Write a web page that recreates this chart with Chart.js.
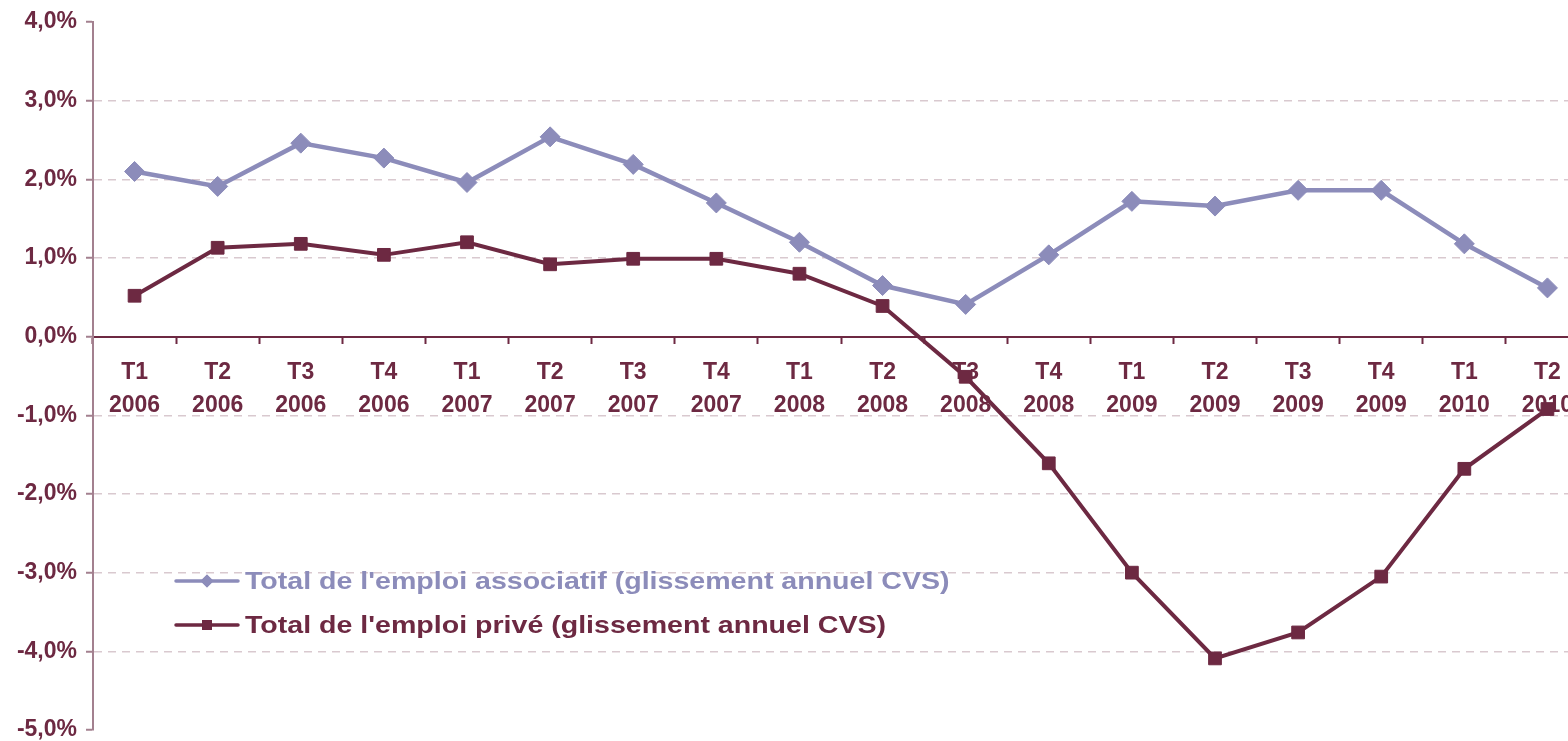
<!DOCTYPE html>
<html><head><meta charset="utf-8">
<script src="https://cdn.jsdelivr.net/npm/chart.js@4"></script>
<style>
html,body{margin:0;padding:0;overflow:hidden;background:#fff;width:1568px;height:741px;}
#wrap{position:absolute;left:0;top:0;width:1600px;height:741px;}
</style></head>
<body><div id="wrap"><canvas id="c"></canvas></div>
<script>
const quarters = ['T1','T2','T3','T4','T1','T2','T3','T4','T1','T2','T3','T4','T1','T2','T3','T4','T1','T2'];
const years = ['2006','2006','2006','2006','2007','2007','2007','2007','2008','2008','2008','2008','2009','2009','2009','2009','2010','2010'];
const associatif = [2.10,1.91,2.46,2.27,1.96,2.54,2.19,1.70,1.20,0.65,0.41,1.04,1.72,1.66,1.86,1.86,1.18,0.62];
const prive = [0.52,1.13,1.18,1.04,1.20,0.92,0.99,0.99,0.80,0.39,-0.51,-1.61,-3.00,-4.09,-3.76,-3.05,-1.68,-0.92];
const seriesNames = ["Total de l'emploi associatif (glissement annuel CVS)", "Total de l'emploi privé (glissement annuel CVS)"];
const yMin = -5, yMax = 4;

const MAROON = '#6d2942';
const LILAC = '#8c8cba';
const FONT = "'Liberation Sans', Arial, sans-serif";

const labels = quarters.map((q,i)=>[q, years[i]]);

const legendPlugin = {
  id: 'insideLegend',
  afterDraw(chart) {
    const ctx = chart.ctx;
    const rows = [{y:581, r:6.5}, {y:625, r:7}];
    chart.data.datasets.forEach((ds, i) => {
      const y = rows[i].y;
      ctx.save();
      ctx.strokeStyle = ds.borderColor;
      ctx.lineWidth = 3.5;
      ctx.lineCap = 'round';
      ctx.beginPath(); ctx.moveTo(176, y); ctx.lineTo(238, y); ctx.stroke();
      ctx.fillStyle = ds.borderColor;
      Chart.helpers.drawPoint(ctx, {pointStyle: ds.pointStyle, radius: rows[i].r, borderWidth: 0}, 207, y);
      ctx.fill();
      ctx.font = 'bold 24px ' + FONT;
      ctx.textBaseline = 'middle';
      ctx.textAlign = 'left';
      ctx.translate(245, y + 1);
      ctx.scale(1.19, 1);
      ctx.fillText(ds.label, 0, 0);
      ctx.restore();
    });
  }
};

new Chart(document.getElementById('c'), {
  type: 'line',
  data: {
    labels: labels,
    datasets: [
      {label: seriesNames[0], data: associatif, borderColor: LILAC, backgroundColor: LILAC, borderWidth: 4.5,
       pointStyle: 'rectRot', pointRadius: 10, pointBackgroundColor: LILAC, pointBorderColor: LILAC, pointBorderWidth: 1, tension: 0},
      {label: seriesNames[1], data: prive, borderColor: MAROON, backgroundColor: MAROON, borderWidth: 4,
       pointStyle: 'rect', pointRadius: 9, pointBackgroundColor: MAROON, pointBorderColor: MAROON, pointBorderWidth: 1, tension: 0}
    ]
  },
  options: {
    responsive: true, maintainAspectRatio: false, animation: false,
    layout: {padding: {left: 0, top: 22, right: 9, bottom: 9}},
    plugins: {legend: {display: false}, tooltip: {enabled: false}},
    scales: {
      x: {
        type: 'category', offset: true,
        position: {y: 0},
        grid: {drawOnChartArea: false, drawTicks: true, tickLength: 6, tickColor: MAROON, tickWidth: 2, offset: true},
        border: {display: true, color: MAROON, width: 2},
        ticks: {color: MAROON, font: {family: FONT, size: 23, weight: 'bold', lineHeight: 1.43}, padding: 14, maxRotation: 0, autoSkip: false},
        afterFit(s) { s.paddingLeft = 0; s.paddingRight = 0; }
      },
      y: {
        min: yMin, max: yMax,
        ticks: {stepSize: 1, color: MAROON, padding: 9,
          font: {family: FONT, size: 23, weight: 'bold'},
          callback: v => v.toFixed(1).replace('.', ',') + '%'},
        grid: {
          color: c => (c.tick && (c.tick.value === 0 || c.tick.value === yMax || c.tick.value === yMin)) ? 'rgba(0,0,0,0)' : '#d9c9cf',
          lineWidth: 1.5, tickLength: 7, tickColor: '#a3808f', tickWidth: 2
        },
        border: {display: true, color: '#a3808f', width: 2, dash: [8, 6]},
        afterFit(s) { s.width = 93; s.paddingTop = 0; s.paddingBottom = 0; }
      }
    }
  },
  plugins: [legendPlugin]
});
</script>
</body></html>
